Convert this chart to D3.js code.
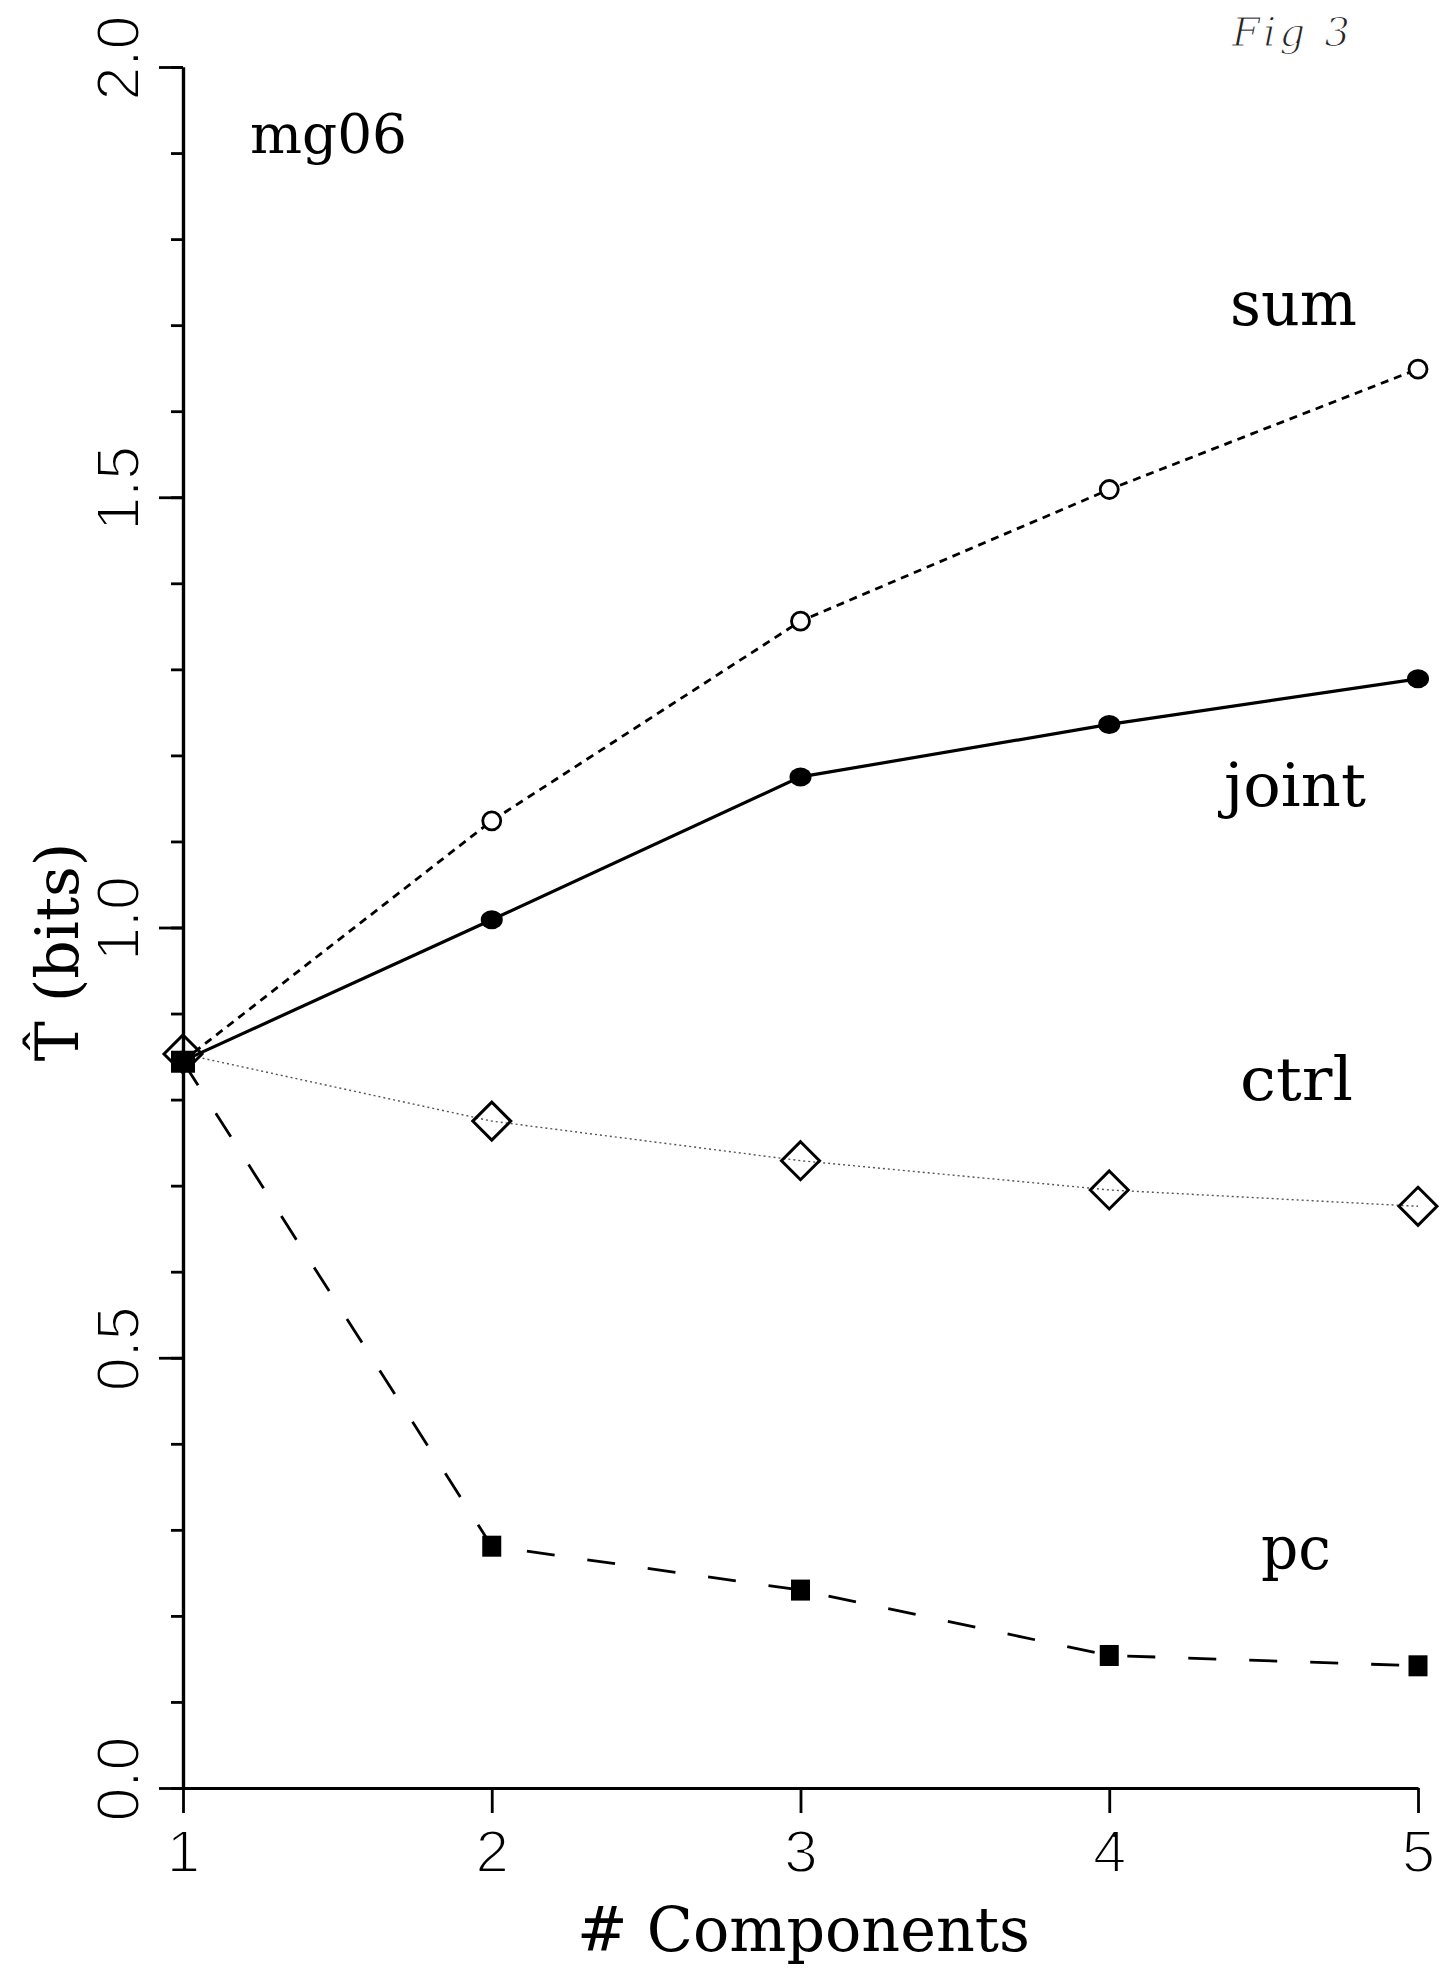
<!DOCTYPE html>
<html>
<head>
<meta charset="utf-8">
<script src="https://cdn.jsdelivr.net/npm/d3@7"></script>
<style>
  html, body { margin: 0; padding: 0; background: #fff; }
  svg { display: block; }
  .tick-num { font-family: "Liberation Sans", Arial, sans-serif; fill: #000; stroke: #fff; stroke-width: 2px; }
  .serif { font-family: "DejaVu Serif", "Liberation Serif", serif; fill: #000; }
</style>
</head>
<body>
<svg id="chart" width="1441" height="1969"></svg>
<script>
// Number of components on the x axis
const components = [1, 2, 3, 4, 5];

// Estimated transmitted information (bits) for each method
const sumVals   = [0.845, 1.124, 1.356, 1.509, 1.649];
const jointVals = [0.845, 1.009, 1.175, 1.236, 1.289];
const ctrlVals  = [0.853, 0.775, 0.729, 0.695, 0.676];
const pcVals    = [0.844, 0.281, 0.230, 0.154, 0.142];

const seriesNames = ["sum", "joint", "ctrl", "pc"];
const yMajorTicks = [0.0, 0.5, 1.0, 1.5, 2.0];
const yMinorTicks = d3.range(0, 21).map(i => i / 10);
const xTicks = [1, 2, 3, 4, 5];

const svg = d3.select("#chart");

const x = d3.scaleLinear().domain([1, 5]).range([183, 1418]);
const y = d3.scaleLinear().domain([0, 2]).range([1788, 67]);

// ---- axes ----
const axisStyle = g => {
  g.selectAll("path, line").attr("stroke", "#000").attr("stroke-width", 2.8);
  g.select(".domain").attr("stroke-width", 3.2);
};

// minor y ticks
svg.append("g")
  .attr("transform", `translate(${x(1)},0)`)
  .call(d3.axisLeft(y).tickValues(yMinorTicks).tickSize(12).tickSizeOuter(0).tickFormat(""))
  .call(axisStyle);

// major y ticks
svg.append("g")
  .attr("transform", `translate(${x(1)},0)`)
  .call(d3.axisLeft(y).tickValues(yMajorTicks).tickSize(24).tickSizeOuter(0).tickFormat(""))
  .call(axisStyle);

// y tick labels, rotated
svg.append("g").selectAll("text")
  .data(yMajorTicks)
  .join("text")
  .attr("class", "tick-num")
  .attr("font-size", 61)
  .attr("text-anchor", "middle")
  .attr("transform", d => `translate(139,${y(d) - 9}) rotate(-90)`)
  .text(d => d.toFixed(1));

// x axis
const xAxisG = svg.append("g")
  .attr("transform", `translate(0,${y(0)})`)
  .call(d3.axisBottom(x).tickValues(xTicks).tickSize(25).tickSizeOuter(0).tickPadding(16).tickFormat(d3.format("d")))
  .call(axisStyle);
xAxisG.selectAll("text")
  .attr("class", "tick-num")
  .attr("font-size", 60)
  .attr("fill", "#000");
xAxisG.attr("font-family", null);

// ---- axis titles ----
svg.append("text")
  .attr("class", "serif")
  .attr("font-size", 62)
  .attr("x", 577)
  .attr("y", 1951)
  .attr("textLength", 453)
  .attr("lengthAdjust", "spacingAndGlyphs")
  .text("# Components");

svg.append("text")
  .attr("class", "serif")
  .attr("font-size", 60)
  .attr("text-anchor", "middle")
  .attr("transform", "translate(78,952) rotate(-90)")
  .text("T\u0302 (bits)");

// ---- lines ----
const lineGen = d3.line().x((d, i) => x(components[i])).y(d => y(d));

svg.append("path").datum(ctrlVals)
  .attr("d", lineGen).attr("fill", "none")
  .attr("stroke", "#555").attr("stroke-width", 1.4).attr("stroke-dasharray", "2,3");

svg.append("path").datum(pcVals)
  .attr("d", lineGen).attr("fill", "none")
  .attr("stroke", "#000").attr("stroke-width", 2.8).attr("stroke-dasharray", "28,33");

svg.append("path").datum(sumVals)
  .attr("d", lineGen).attr("fill", "none")
  .attr("stroke", "#000").attr("stroke-width", 2.8).attr("stroke-dasharray", "8,6");

svg.append("path").datum(jointVals)
  .attr("d", lineGen).attr("fill", "none")
  .attr("stroke", "#000").attr("stroke-width", 3.2);

// ---- markers ----
// sum: open circles
svg.append("g").selectAll("circle")
  .data(sumVals)
  .join("circle")
  .attr("cx", (d, i) => x(components[i]))
  .attr("cy", d => y(d))
  .attr("r", 9)
  .attr("fill", "#fff")
  .attr("stroke", "#000")
  .attr("stroke-width", 2.8);

// joint: filled dots
svg.append("g").selectAll("ellipse")
  .data(jointVals)
  .join("ellipse")
  .attr("cx", (d, i) => x(components[i]))
  .attr("cy", d => y(d))
  .attr("rx", 11)
  .attr("ry", 9.5)
  .attr("fill", "#000");

// ctrl: open diamonds
const dHalf = 19;
svg.append("g").selectAll("path")
  .data(ctrlVals)
  .join("path")
  .attr("transform", (d, i) => `translate(${x(components[i])},${y(d)})`)
  .attr("d", `M0,${-dHalf}L${dHalf},0L0,${dHalf}L${-dHalf},0Z`)
  .attr("fill", "none")
  .attr("stroke", "#000")
  .attr("stroke-width", 3);

// pc: filled squares
svg.append("g").selectAll("rect")
  .data(pcVals)
  .join("rect")
  .attr("x", (d, i) => x(components[i]) - (i === 0 ? 12 : 9.5))
  .attr("y", (d, i) => y(d) - (i === 0 ? 11 : 10.5))
  .attr("width", (d, i) => i === 0 ? 24 : 19)
  .attr("height", (d, i) => i === 0 ? 22 : 21)
  .attr("fill", "#000");

// ---- labels ----
const labels = [
  { text: "mg06",  x: 250,  y: 153,  w: 157, size: 54 },
  { text: seriesNames[0], x: 1230, y: 325,  w: 127, size: 61 },
  { text: seriesNames[1], x: 1224, y: 806,  w: 142, size: 60 },
  { text: seriesNames[2], x: 1240, y: 1100, w: 113, size: 60 },
  { text: seriesNames[3], x: 1261, y: 1569, w: 70,  size: 60 }
];
svg.append("g").selectAll("text")
  .data(labels)
  .join("text")
  .attr("class", "serif")
  .attr("x", d => d.x)
  .attr("y", d => d.y)
  .attr("font-size", d => d.size)
  .attr("textLength", d => d.w)
  .attr("lengthAdjust", "spacingAndGlyphs")
  .text(d => d.text);

// handwritten figure note in the corner
svg.append("text")
  .attr("x", 1232)
  .attr("y", 46)
  .attr("font-family", "DejaVu Serif, serif")
  .attr("font-style", "italic")
  .attr("font-size", 40)
  .attr("fill", "#222")
  .attr("stroke", "#fff")
  .attr("stroke-width", 1.2)
  .attr("textLength", 118)
  .attr("lengthAdjust", "spacing")
  .text("Fig 3");
</script>
</body>
</html>
